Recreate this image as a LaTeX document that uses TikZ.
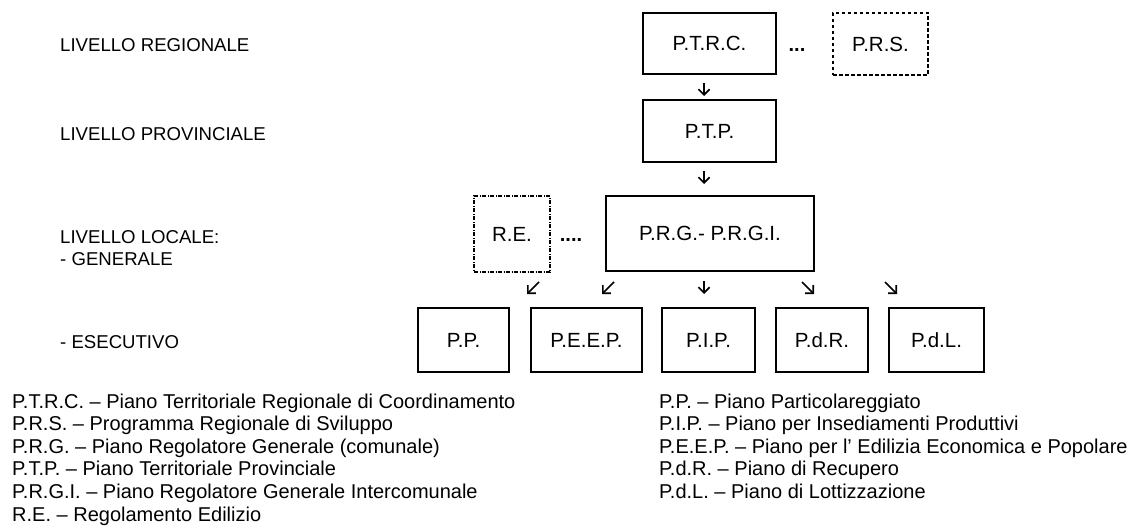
\documentclass[tikz,border=0pt]{standalone}
\usepackage{fontspec}
\setmainfont{Liberation Sans}
\usetikzlibrary{arrows.meta}
\tikzset{
  txt/.style={font=\fontsize{20}{23}\selectfont},
  ltxt/.style={font=\fontsize{18.6}{22}\selectfont},
  btxt/.style={font=\fontsize{20.5}{24}\selectfont},
  box/.style={draw, line width=1.8pt, inner sep=0pt, btxt},
  dashbox/.style={box, line width=2.2pt, dash pattern=on 3.5pt off 2.5pt},
  dotbox/.style={box, line width=1.6pt, dash pattern=on 4pt off 1.5pt on 1pt off 1.5pt},
  lbl/.style={anchor=base west, inner sep=0pt, ltxt},
  leg/.style={anchor=base west, inner sep=0pt, txt},
  dots/.style={anchor=base, inner sep=0pt, font=\fontsize{20}{24}\selectfont\bfseries},
  arr/.style={line width=1.6pt, -{Straight Barb[angle=90:8pt]}},
}
\begin{document}
\begin{tikzpicture}[x=1pt,y=-1pt]
\useasboundingbox (0,0) rectangle (1135,527);
% boxes
\node[box, minimum width=133pt, minimum height=61pt] (ptrc) at (709.5,43.5) {P.T.R.C.};
\node[dashbox, minimum width=95pt, minimum height=62pt] (prs) at (880.5,44) {P.R.S.};
\node[box, minimum width=133pt, minimum height=62pt] (ptp) at (709.5,131) {P.T.P.};
\node[box, minimum width=208pt, minimum height=75pt] (prg) at (710,233.5) {P.R.G.- P.R.G.I.};
\node[dotbox, minimum width=76pt, minimum height=76pt] (re) at (512,234) {R.E.};
\node[box, minimum width=91pt, minimum height=64pt] (pp) at (463.5,340) {P.P.};
\node[box, minimum width=111pt, minimum height=64pt] (peep) at (586.5,340) {P.E.E.P.};
\node[box, minimum width=93pt, minimum height=64pt] (pip) at (708.5,340) {P.I.P.};
\node[box, minimum width=92pt, minimum height=64pt] (pdr) at (822,340) {P.d.R.};
\node[box, minimum width=95pt, minimum height=64pt] (pdl) at (936.5,340) {P.d.L.};
% dots
\node[dots] (d1) at (797,52) {...};
\node[dots] (d2) at (571,241) {....};
% arrows
\coordinate (a1s) at (704,83);  \coordinate (a1e) at (704,96);
\coordinate (a2s) at (704,171); \coordinate (a2e) at (704,184);
\coordinate (a3s) at (539,282); \coordinate (a3e) at (527,294);
\coordinate (a4s) at (614,282); \coordinate (a4e) at (602,294);
\coordinate (a5s) at (704,281); \coordinate (a5e) at (704,294);
\coordinate (a6s) at (802,282); \coordinate (a6e) at (814,294);
\coordinate (a7s) at (885,282); \coordinate (a7e) at (897,294);
\draw[arr] (a1s) -- (a1e);
\draw[arr] (a2s) -- (a2e);
\draw[arr] (a3s) -- (a3e);
\draw[arr] (a4s) -- (a4e);
\draw[arr] (a5s) -- (a5e);
\draw[arr] (a6s) -- (a6e);
\draw[arr] (a7s) -- (a7e);
% level labels
\node[lbl] (l1) at (60,52) {LIVELLO REGIONALE};
\node[lbl] (l2) at (60,140) {LIVELLO PROVINCIALE};
\node[lbl] (l3) at (60,243) {LIVELLO LOCALE:};
\node[lbl] (l4) at (60,265) {- GENERALE};
\node[lbl] (l5) at (60,348) {- ESECUTIVO};
% legend left
\node[leg] (g1) at (12,408) {P.T.R.C. – Piano Territoriale Regionale di Coordinamento};
\node[leg] (g2) at (12,430.6) {P.R.S. – Programma Regionale di Sviluppo};
\node[leg] (g3) at (12,453.2) {P.R.G. – Piano Regolatore Generale (comunale)};
\node[leg] (g4) at (12,475.8) {P.T.P. – Piano Territoriale Provinciale};
\node[leg] (g5) at (12,498.4) {P.R.G.I. – Piano Regolatore Generale Intercomunale};
\node[leg] (g6) at (12,521) {R.E. – Regolamento Edilizio};
% legend right
\node[leg] (h1) at (659,408) {P.P. – Piano Particolareggiato};
\node[leg] (h2) at (659,430.6) {P.I.P. – Piano per Insediamenti Produttivi};
\node[leg] (h3) at (659,453.2) {P.E.E.P. – Piano per l’ Edilizia Economica e Popolare};
\node[leg] (h4) at (659,475.8) {P.d.R. – Piano di Recupero};
\node[leg] (h5) at (659,498.4) {P.d.L. – Piano di Lottizzazione};
\end{tikzpicture}
\end{document}
